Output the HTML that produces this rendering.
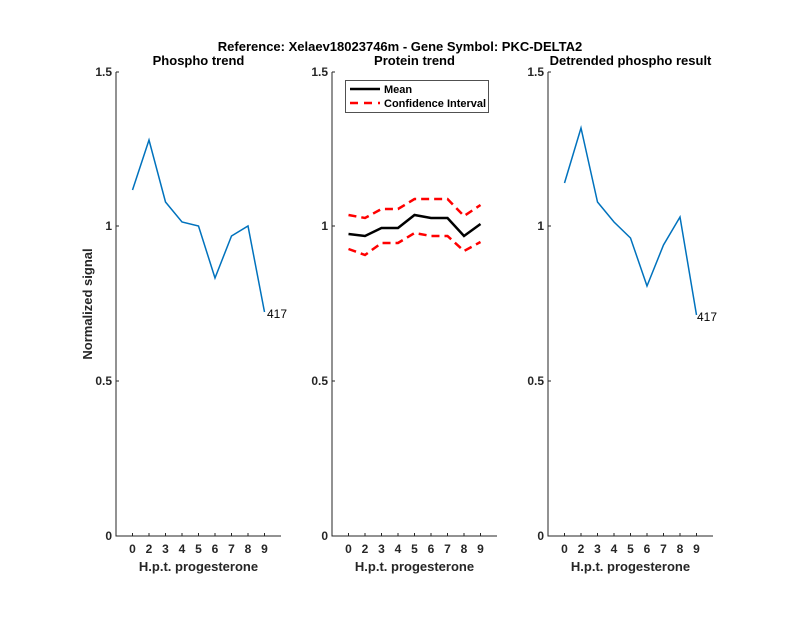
<!DOCTYPE html>
<html><head><style>body{margin:0;background:#fff}</style></head><body>
<svg width="800" height="618" xmlns="http://www.w3.org/2000/svg" font-family="Liberation Sans, sans-serif" font-weight="bold">
<rect width="800" height="618" fill="#fff"/>
<text x="400" y="51" font-size="13" text-anchor="middle">Reference:  Xelaev18023746m - Gene Symbol:  PKC-DELTA2</text>
<g id="ax" stroke="#262626" stroke-width="1" fill="none">
<path d="M116,72V536H281M332,72V536H497M548,72V536H713"/>
<path d="M116,72h3M116,226h3M116,381h3M332,72h3M332,226h3M332,381h3M548,72h3M548,226h3M548,381h3"/>
<path d="M132.5,536v-3M149,536v-3M165.5,536v-3M182,536v-3M198.5,536v-3M215,536v-3M231.5,536v-3M248,536v-3M264.5,536v-3"/>
<path d="M348.5,536v-3M365,536v-3M381.5,536v-3M398,536v-3M414.5,536v-3M431,536v-3M447.5,536v-3M464,536v-3M480.5,536v-3"/>
<path d="M564.5,536v-3M581,536v-3M597.5,536v-3M614,536v-3M630.5,536v-3M647,536v-3M663.5,536v-3M680,536v-3M696.5,536v-3"/>
</g>
<g font-size="12" fill="#262626" text-anchor="end">
<text x="112" y="76">1.5</text><text x="112" y="230">1</text><text x="112" y="385">0.5</text><text x="112" y="540">0</text>
<text x="328" y="76">1.5</text><text x="328" y="230">1</text><text x="328" y="385">0.5</text><text x="328" y="540">0</text>
<text x="544" y="76">1.5</text><text x="544" y="230">1</text><text x="544" y="385">0.5</text><text x="544" y="540">0</text>
</g>
<g font-size="12" fill="#262626" text-anchor="middle">
<text x="132.5" y="553">0</text><text x="149" y="553">2</text><text x="165.5" y="553">3</text><text x="182" y="553">4</text><text x="198.5" y="553">5</text><text x="215" y="553">6</text><text x="231.5" y="553">7</text><text x="248" y="553">8</text><text x="264.5" y="553">9</text>
<text x="348.5" y="553">0</text><text x="365" y="553">2</text><text x="381.5" y="553">3</text><text x="398" y="553">4</text><text x="414.5" y="553">5</text><text x="431" y="553">6</text><text x="447.5" y="553">7</text><text x="464" y="553">8</text><text x="480.5" y="553">9</text>
<text x="564.5" y="553">0</text><text x="581" y="553">2</text><text x="597.5" y="553">3</text><text x="614" y="553">4</text><text x="630.5" y="553">5</text><text x="647" y="553">6</text><text x="663.5" y="553">7</text><text x="680" y="553">8</text><text x="696.5" y="553">9</text>
</g>
<g font-size="13" fill="#262626" text-anchor="middle">
<text x="198.5" y="571">H.p.t. progesterone</text><text x="414.5" y="571">H.p.t. progesterone</text><text x="630.5" y="571">H.p.t. progesterone</text>
<text x="198.5" y="65" fill="#000">Phospho trend</text><text x="414.5" y="65" fill="#000">Protein trend</text><text x="630.5" y="65" fill="#000">Detrended phospho result</text>
<text transform="translate(92,304) rotate(-90)">Normalized signal</text>
</g>
<polyline fill="none" stroke="#0072bd" stroke-width="1.5" points="132.5,190 149,140 165.5,202 182,222 198.5,226 215,278 231.5,236 248,226 264.5,312"/>
<text x="267" y="318" font-size="12" font-weight="normal">417</text>
<polyline fill="none" stroke="#0072bd" stroke-width="1.5" points="564.5,183 581,128 597.5,202 614,222 630.5,238 647,286 663.5,245 680,217 696.5,315"/>
<text x="697" y="321" font-size="12" font-weight="normal">417</text>
<polyline fill="none" stroke="#000" stroke-width="2.5" points="348.5,234 365,236 381.5,228 398,228 414.5,215 431,218 447.5,218 464,236 480.5,224"/>
<polyline fill="none" stroke="#f00" stroke-width="2.5" stroke-dasharray="8,5" points="348.5,215 365,218 381.5,209 398,209 414.5,199 431,199 447.5,199 464,216 480.5,205"/>
<polyline fill="none" stroke="#f00" stroke-width="2.5" stroke-dasharray="8,5" points="348.5,249 365,255 381.5,243 398,243 414.5,233 431,236 447.5,236 464,251 480.5,242"/>
<rect x="345.5" y="80.5" width="143" height="32" fill="#fff" stroke="#262626" stroke-width="0.8"/>
<line x1="350" y1="89" x2="380" y2="89" stroke="#000" stroke-width="2.5"/>
<line x1="350" y1="103" x2="380" y2="103" stroke="#f00" stroke-width="2.5" stroke-dasharray="8,6"/>
<text x="384" y="93" font-size="11">Mean</text>
<text x="384" y="107" font-size="11">Confidence Interval</text>
</svg>
</body></html>
